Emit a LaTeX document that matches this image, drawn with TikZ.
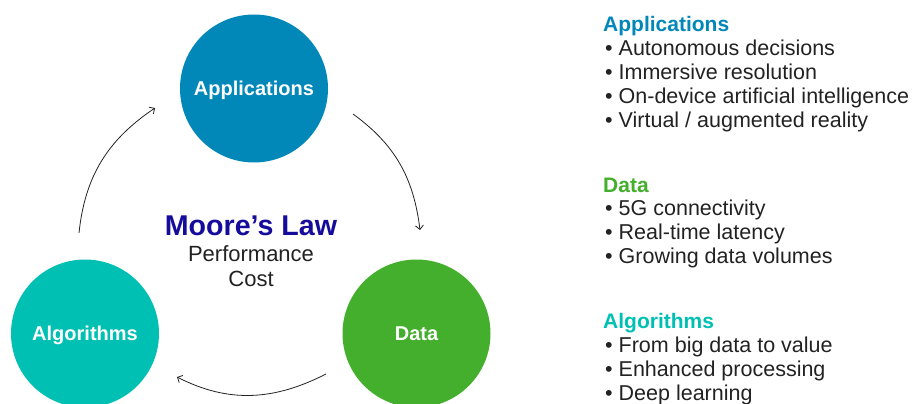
\documentclass[tikz,border=0pt]{standalone}
\usepackage{fontspec}
\setmainfont{Liberation Sans}
\usetikzlibrary{positioning, arrows.meta}

\definecolor{appblue}{HTML}{0288B8}
\definecolor{datagreen}{HTML}{44AF2C}
\definecolor{algteal}{HTML}{00BFB3}
\definecolor{moorenavy}{HTML}{160C9C}
\definecolor{txtgray}{HTML}{222222}

\begin{document}
\begin{tikzpicture}[
            x=1pt, y=1pt,
            >={Straight Barb[length=4pt, width=8pt]},
            % Styles for the cycle
            stage/.style={circle, minimum size=148pt, inner sep=0pt, text=white,
                    text height=14pt, text depth=0pt, font=\fontsize{20}{24}\selectfont\bfseries},
            cyc/.style={->, line width=0.8pt, txtgray},
            % Styles for the lists
            head/.style={anchor=base west, inner sep=0pt, font=\fontsize{21}{24}\selectfont\bfseries},
            items/.style={anchor=north west, inner sep=0pt, align=left, text=txtgray,
                    font=\fontsize{21.5}{24}\selectfont},
            center/.style={anchor=base, inner sep=0pt, text=txtgray,
                    font=\fontsize{22}{25}\selectfont}, ]
            \useasboundingbox (0,0) rectangle (913,-404);

            % === CYCLE ===
            \node[stage, fill=appblue] (app) at (254,-88.5) {Applications};
            \node[stage, fill=algteal] (alg) at (85,-333.5) {Algorithms};
            \node[stage, fill=datagreen] (data) at (416.5,-333.5) {Data};

            % === CENTER TEXT ===
            \node[center, text=moorenavy, font=\fontsize{28.6}{30}\selectfont\bfseries] (moore) at (251,-235.7) {Moore's Law};
            \node[center] (perf) at (251,-261.7) {Performance};
            \node[center] (cost) at (251,-286.7) {Cost};

            % === CONNECTIONS ===
            \draw[cyc] ([shift={(99,-25.5)}]app.center) to[out=-36, in=97] ([shift={(3.5,103.5)}]data.center);
            \draw[cyc] ([shift={(-90.5,-40.5)}]data.center) to[out=-153, in=-27] ([shift={(92,-43.5)}]alg.center);
            \draw[cyc] ([shift={(-6,100.5)}]alg.center) to[out=84, in=-146] ([shift={(-99,-19.5)}]app.center);

            % === LISTS ===
            % (strut on the first line, so the top sits 16.8pt above its baseline)
            \node[head, text=appblue] (apphead) at (603,-31.7) {Applications};
            \node[items] (applist) at (605,-38.2) {\strut\textbullet\ Autonomous decisions\\
                \textbullet\ Immersive resolution\\
                \textbullet\ On-device artificial intelligence\\
                \textbullet\ Virtual / augmented reality};

            \node[head, text=datagreen] (datahead) at (603,-192.7) {Data};
            \node[items] (datalist) at (605,-198.2) {\strut\textbullet\ 5G connectivity\\
                \textbullet\ Real-time latency\\
                \textbullet\ Growing data volumes};

            \node[head, text=algteal] (alghead) at (603,-328) {Algorithms};
            \node[items] (alglist) at (605,-335.2) {\strut\textbullet\ From big data to value\\
                \textbullet\ Enhanced processing\\
                \textbullet\ Deep learning};

        \end{tikzpicture}
\end{document}
